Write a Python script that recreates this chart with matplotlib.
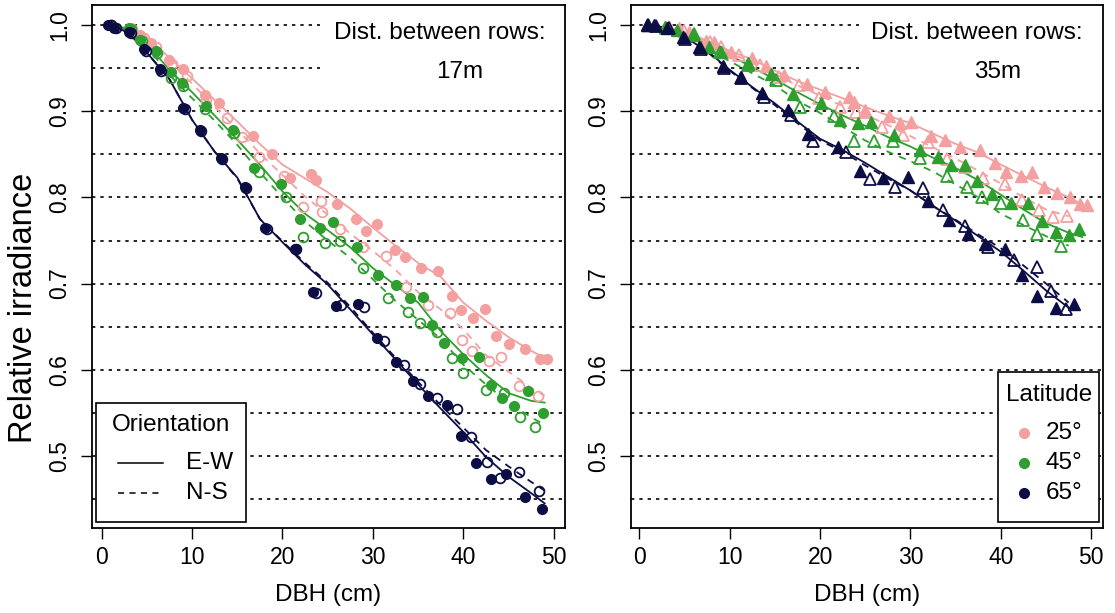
#!/usr/bin/env python3
import numpy as np
import matplotlib
matplotlib.use('Agg')
import matplotlib.pyplot as plt
from matplotlib.patches import Rectangle

plt.rcParams['font.family'] = ['Liberation Sans', 'DejaVu Sans']

# colours per latitude
lat_labels = ['25°', '45°', '65°']
lat_colors = ['#F4A0A0', '#2E9E2E', '#0D0D45']
orient_labels = ['E-W', 'N-S']

# ---- 17 m rows (circles) ----
# filled = E-W, open = N-S
x17_25_ew = [1.0, 3.2, 4.2, 5.5, 7.4, 9.0, 11.4, 13.0, 16.7, 18.8, 20.8, 23.1, 23.7, 26.0, 28.1, 29.2, 30.5,
             32.4, 33.5, 35.3, 37.2, 38.7, 39.7, 41.1, 42.4, 43.6, 45.1, 46.8, 48.5, 49.3]
y17_25_ew = [1.0, 0.996, 0.988, 0.979, 0.959, 0.949, 0.919, 0.910, 0.871, 0.850, 0.822, 0.827, 0.820, 0.792,
             0.775, 0.761, 0.769, 0.739, 0.731, 0.718, 0.715, 0.686, 0.669, 0.660, 0.670, 0.639, 0.630, 0.624,
             0.613, 0.613]
x17_25_ns = [1.0, 3.3, 4.7, 6.0, 7.8, 9.4, 11.5, 13.9, 15.5, 17.4, 20.2, 22.3, 24.3, 24.4, 26.4, 28.9, 31.4,
             33.7, 36.1, 38.5, 39.9, 41.0, 42.8, 44.2, 46.2, 48.3]
y17_25_ns = [1.0, 0.995, 0.985, 0.975, 0.955, 0.941, 0.913, 0.892, 0.870, 0.847, 0.825, 0.789, 0.796, 0.783,
             0.763, 0.743, 0.732, 0.696, 0.675, 0.666, 0.635, 0.622, 0.610, 0.615, 0.581, 0.570]
x17_45_ew = [1.0, 3.0, 4.2, 6.0, 7.7, 8.9, 11.5, 14.5, 16.9, 19.8, 21.9, 24.1, 25.6, 28.2, 30.6, 32.6, 34.1,
             35.5, 36.5, 37.9, 39.9, 41.7, 43.1, 44.3, 45.6, 47.2, 48.8]
y17_45_ew = [1.0, 0.996, 0.983, 0.970, 0.945, 0.933, 0.906, 0.878, 0.834, 0.815, 0.775, 0.765, 0.771, 0.743,
             0.710, 0.698, 0.683, 0.684, 0.652, 0.631, 0.614, 0.615, 0.582, 0.567, 0.558, 0.575, 0.550]
x17_45_ns = [1.0, 3.2, 4.5, 6.1, 7.7, 9.0, 11.4, 14.6, 17.4, 20.4, 22.3, 24.7, 26.4, 28.9, 31.7, 33.9, 35.2,
             37.1, 38.8, 40.0, 42.5, 44.5, 46.3, 47.9]
y17_45_ns = [1.0, 0.995, 0.981, 0.968, 0.938, 0.929, 0.903, 0.875, 0.829, 0.801, 0.754, 0.747, 0.749, 0.718,
             0.683, 0.667, 0.654, 0.644, 0.614, 0.596, 0.577, 0.573, 0.545, 0.534]
x17_65_ew = [0.7, 1.4, 3.0, 4.7, 6.5, 9.0, 10.9, 13.2, 15.9, 18.1, 21.4, 23.4, 25.9, 28.4, 30.5, 32.6, 34.4,
             36.1, 38.2, 39.7, 41.4, 43.1, 44.7, 46.8, 48.7]
y17_65_ew = [1.0, 0.997, 0.992, 0.972, 0.949, 0.904, 0.878, 0.846, 0.812, 0.765, 0.740, 0.690, 0.674, 0.676,
             0.637, 0.609, 0.587, 0.570, 0.559, 0.523, 0.492, 0.473, 0.479, 0.452, 0.439]
x17_65_ns = [1.0, 1.6, 3.2, 4.9, 6.6, 9.2, 11.0, 13.3, 16.0, 18.3, 21.5, 23.7, 26.5, 29.0, 31.2, 33.4, 35.2,
             37.1, 39.3, 40.9, 42.6, 44.1, 46.2, 48.4]
y17_65_ns = [1.0, 0.996, 0.991, 0.970, 0.947, 0.902, 0.877, 0.845, 0.811, 0.763, 0.740, 0.689, 0.675, 0.673,
             0.633, 0.606, 0.584, 0.567, 0.555, 0.522, 0.493, 0.474, 0.482, 0.459]

# fitted curves, 17 m (read at fit_x17)
fit_x17 = [1, 3, 5, 7.5, 10, 12.5, 15, 17.5, 20, 22.5, 25, 27.5, 30, 32.5, 35, 37.5, 40, 42.5, 45, 47.5, 49]
fit17_25_ew = [1.0, 0.996, 0.986, 0.962, 0.938, 0.913, 0.888, 0.862, 0.838, 0.822, 0.806, 0.787, 0.765, 0.744,
               0.724, 0.708, 0.678, 0.657, 0.638, 0.622, 0.614]
fit17_25_ns = [1.0, 0.995, 0.982, 0.958, 0.932, 0.905, 0.879, 0.851, 0.826, 0.801, 0.780, 0.758, 0.738, 0.716,
               0.690, 0.670, 0.647, 0.617, 0.598, 0.579, 0.570]
fit17_45_ew = [1.0, 0.995, 0.978, 0.948, 0.922, 0.895, 0.867, 0.838, 0.807, 0.781, 0.762, 0.742, 0.718, 0.698,
               0.678, 0.645, 0.618, 0.594, 0.573, 0.564, 0.562]
fit17_45_ns = [1.0, 0.994, 0.975, 0.942, 0.915, 0.889, 0.861, 0.829, 0.800, 0.772, 0.750, 0.730, 0.705, 0.680,
               0.658, 0.636, 0.606, 0.583, 0.562, 0.545, 0.536]
fit17_65_ew = [1.0, 0.991, 0.968, 0.937, 0.890, 0.853, 0.823, 0.775, 0.748, 0.722, 0.699, 0.670, 0.641, 0.612,
               0.583, 0.555, 0.528, 0.499, 0.476, 0.457, 0.445]
fit17_65_ns = [1.0, 0.991, 0.968, 0.937, 0.890, 0.853, 0.822, 0.775, 0.749, 0.724, 0.701, 0.673, 0.643, 0.614,
               0.586, 0.559, 0.533, 0.507, 0.488, 0.470, 0.460]

# ---- 35 m rows (triangles) ----
x35_25_ew = [1.0, 2.8, 4.4, 5.5, 7.4, 8.3, 10.1, 12.5, 14.0, 16.0, 18.6, 20.5, 23.2, 23.8, 25.0, 27.6, 28.8,
             30.1, 32.3, 33.8, 35.5, 37.7, 39.3, 40.6, 42.2, 43.4, 44.8, 46.2, 47.6, 48.8, 49.5]
y35_25_ew = [1.0, 0.998, 0.996, 0.992, 0.981, 0.980, 0.969, 0.962, 0.952, 0.942, 0.932, 0.922, 0.917, 0.911,
             0.901, 0.894, 0.886, 0.888, 0.871, 0.867, 0.859, 0.855, 0.840, 0.830, 0.825, 0.829, 0.812, 0.805,
             0.800, 0.792, 0.791]
x35_25_ns = [1.0, 3.3, 4.9, 6.0, 7.8, 9.0, 11.0, 13.4, 15.5, 17.7, 19.9, 22.2, 24.0, 25.0, 26.8, 29.2, 31.9,
             34.0, 36.0, 38.0, 40.5, 42.3, 44.2, 45.8, 47.3]
y35_25_ns = [1.0, 0.998, 0.993, 0.990, 0.980, 0.975, 0.965, 0.954, 0.940, 0.930, 0.915, 0.905, 0.899, 0.899,
             0.882, 0.872, 0.864, 0.845, 0.835, 0.822, 0.815, 0.797, 0.785, 0.777, 0.779]
x35_45_ew = [1.0, 2.8, 4.2, 5.9, 7.7, 9.0, 12.0, 14.6, 17.0, 20.1, 22.2, 24.2, 25.6, 28.2, 31.0, 33.0, 34.5,
             36.0, 37.4, 39.0, 41.1, 43.0, 44.6, 46.1, 47.5, 48.7]
y35_45_ew = [1.0, 0.998, 0.994, 0.988, 0.975, 0.969, 0.956, 0.943, 0.920, 0.910, 0.890, 0.886, 0.887, 0.872,
             0.855, 0.847, 0.838, 0.838, 0.819, 0.804, 0.793, 0.794, 0.773, 0.760, 0.756, 0.763]
x35_45_ns = [1.0, 3.0, 6.0, 8.9, 12.0, 15.1, 17.8, 21.5, 23.7, 26.0, 28.1, 31.0, 34.0, 36.3, 37.9, 40.0, 42.4,
             44.0, 46.7]
y35_45_ns = [1.0, 0.997, 0.990, 0.969, 0.954, 0.936, 0.905, 0.894, 0.866, 0.865, 0.865, 0.846, 0.825, 0.812,
             0.800, 0.793, 0.774, 0.757, 0.744]
x35_65_ew = [0.8, 1.6, 3.1, 4.8, 6.6, 9.3, 11.2, 13.6, 16.4, 18.7, 22.0, 24.4, 27.0, 29.7, 31.9, 34.3, 36.4,
             38.2, 40.5, 42.3, 44.0, 46.1, 48.1]
y35_65_ew = [1.0, 1.0, 0.997, 0.986, 0.975, 0.952, 0.940, 0.921, 0.901, 0.874, 0.859, 0.831, 0.822, 0.824,
             0.796, 0.774, 0.757, 0.746, 0.740, 0.710, 0.686, 0.672, 0.676]
x35_65_ns = [1.0, 1.8, 3.3, 5.0, 6.8, 9.4, 11.2, 13.8, 16.8, 19.2, 22.9, 25.5, 28.3, 31.4, 33.6, 36.0, 38.6,
             41.4, 44.0, 45.6, 47.2]
y35_65_ns = [1.0, 0.999, 0.996, 0.984, 0.972, 0.950, 0.938, 0.917, 0.896, 0.865, 0.853, 0.821, 0.812, 0.811,
             0.785, 0.767, 0.742, 0.727, 0.719, 0.691, 0.671]

fit_x35 = [1, 3, 5, 7.5, 10, 12.5, 15, 17.5, 20, 22.5, 25, 27.5, 30, 32.5, 35, 37.5, 40, 42.5, 45, 47.5, 49]
fit35_25_ew = [1.0, 0.997, 0.992, 0.982, 0.970, 0.960, 0.947, 0.935, 0.925, 0.915, 0.905, 0.895, 0.886, 0.874,
               0.862, 0.852, 0.838, 0.825, 0.812, 0.800, 0.792]
fit35_25_ns = [1.0, 0.997, 0.990, 0.980, 0.968, 0.956, 0.943, 0.930, 0.918, 0.906, 0.896, 0.884, 0.871, 0.858,
               0.845, 0.831, 0.816, 0.800, 0.786, 0.778]
fit35_45_ew = [1.0, 0.996, 0.990, 0.977, 0.965, 0.951, 0.937, 0.922, 0.908, 0.895, 0.883, 0.870, 0.859, 0.846,
               0.834, 0.820, 0.803, 0.786, 0.770, 0.759, 0.754]
fit35_45_ns = [1.0, 0.996, 0.988, 0.972, 0.958, 0.944, 0.930, 0.912, 0.898, 0.882, 0.866, 0.853, 0.842, 0.830,
               0.815, 0.800, 0.781, 0.768, 0.755, 0.744]
fit35_65_ew = [1.0, 0.997, 0.986, 0.970, 0.948, 0.928, 0.909, 0.888, 0.868, 0.855, 0.840, 0.824, 0.808, 0.790,
               0.773, 0.755, 0.737, 0.715, 0.692, 0.672]
fit35_65_ns = [1.0, 0.997, 0.986, 0.969, 0.947, 0.927, 0.907, 0.886, 0.866, 0.853, 0.837, 0.822, 0.808, 0.790,
               0.774, 0.757, 0.741, 0.721, 0.700, 0.678]

x_ticks = [0, 10, 20, 30, 40, 50]
y_ticks = [0.5, 0.6, 0.7, 0.8, 0.9, 1.0]
grid_levels = [0.45, 0.5, 0.55, 0.6, 0.65, 0.7, 0.75, 0.8, 0.85, 0.9, 0.95, 1.0]

FS = 17.5
TICK_FS = 16.5
DASH = (0, (4, 3.5))
W, H = 1115.0, 613.0


def setup_axes(ax, xlim):
    ax.set_xlim(*xlim)
    ax.set_ylim(0.4165, 1.0232)
    ax.set_xticks(x_ticks)
    ax.set_yticks(y_ticks)
    ax.set_yticklabels([f'{v:.1f}' for v in y_ticks])
    ax.tick_params(axis='both', direction='out', length=7.7, width=1.0, labelsize=TICK_FS)
    ax.tick_params(axis='x', pad=5)
    ax.tick_params(axis='y', labelrotation=90, pad=7)
    for lab in ax.get_yticklabels():
        lab.set_va('center')
    for sp in ax.spines.values():
        sp.set_linewidth(1.3)
    for g in grid_levels:
        ax.axhline(g, color='black', lw=1.2, ls=(0, (2.0, 3.0)), zorder=1)
    ax.set_xlabel('DBH (cm)', fontsize=FS, labelpad=11)
    # white patch behind the annotation (hides grid lines)
    ax.add_patch(Rectangle((0.482, 0.828), 0.518, 0.172, transform=ax.transAxes,
                           facecolor='white', edgecolor='none', zorder=1.5))


def draw_panel(ax, marker, msize, fit_x, series):
    for (xe, ye, xn, yn, fe, fn), c in zip(series, lat_colors):
        ax.plot(fit_x[:len(fe)], fe, color=c, lw=1.3, zorder=2)
        ax.plot(fit_x[:len(fn)], fn, color=c, lw=1.3, ls=DASH, zorder=2)
        ax.plot(xn, yn, ls='', marker=marker, ms=msize, mfc='none', mec=c, mew=1.3, zorder=3)
        ax.plot(xe, ye, ls='', marker=marker, ms=msize, color=c, mec=c, zorder=3)


def box_legend(ax, ax_px, frame_px, title, title_px, rows):
    # legend drawn by hand so the spacing can follow the original (pixel positions)
    x0, x1 = ax_px
    fx = lambda px: (px - x0) / (x1 - x0)
    fy = lambda py: (528 - py) / 523.0
    (bx0, by0, bx1, by1) = frame_px
    ax.add_patch(Rectangle((fx(bx0), fy(by1)), fx(bx1) - fx(bx0), fy(by0) - fy(by1),
                           transform=ax.transAxes, facecolor='white', edgecolor='black',
                           lw=1.2, zorder=5))
    ax.text(fx(title_px[0]), fy(title_px[1]), title, transform=ax.transAxes, ha='center',
            va='center', fontsize=FS, zorder=6)
    for draw, label, text_x, yy in rows:
        draw(fx, fy(yy))
        ax.text(fx(text_x), fy(yy), label, transform=ax.transAxes, ha='left', va='center',
                fontsize=FS, zorder=6)


fig = plt.figure(figsize=(11.15, 6.13), dpi=100)
ax1 = fig.add_axes([92 / W, 1 - 528 / H, (565 - 92) / W, 523 / H])
ax2 = fig.add_axes([631 / W, 1 - 528 / H, (1103 - 631) / W, 523 / H])

setup_axes(ax1, (-1.07, 51.25))
setup_axes(ax2, (-0.92, 51.3))

draw_panel(ax1, 'o', 7, fit_x17, [
    (x17_25_ew, y17_25_ew, x17_25_ns, y17_25_ns, fit17_25_ew, fit17_25_ns),
    (x17_45_ew, y17_45_ew, x17_45_ns, y17_45_ns, fit17_45_ew, fit17_45_ns),
    (x17_65_ew, y17_65_ew, x17_65_ns, y17_65_ns, fit17_65_ew, fit17_65_ns),
])
draw_panel(ax2, '^', 8.4, fit_x35, [
    (x35_25_ew, y35_25_ew, x35_25_ns, y35_25_ns, fit35_25_ew, fit35_25_ns),
    (x35_45_ew, y35_45_ew, x35_45_ns, y35_45_ns, fit35_45_ew, fit35_45_ns),
    (x35_65_ew, y35_65_ew, x35_65_ns, y35_65_ns, fit35_65_ew, fit35_65_ns),
])

# annotations
ax1.text(0.736, 0.946, 'Dist. between rows:', transform=ax1.transAxes, ha='center', va='center',
         fontsize=FS, zorder=4)
ax1.text(0.778, 0.872, '17m', transform=ax1.transAxes, ha='center', va='center', fontsize=FS, zorder=4)
ax2.text(0.733, 0.946, 'Dist. between rows:', transform=ax2.transAxes, ha='center', va='center',
         fontsize=FS, zorder=4)
ax2.text(0.776, 0.872, '35m', transform=ax2.transAxes, ha='center', va='center', fontsize=FS, zorder=4)

fig.text(24 / W, 1 - 308 / H, 'Relative irradiance', rotation=90, ha='center', va='center', fontsize=23.5)


# orientation legend (left panel)
def orient_sample(ls):
    def draw(fx, y):
        ax1.plot([fx(118), fx(163)], [y, y], color='black', lw=1.1, ls=ls,
                 transform=ax1.transAxes, zorder=6, clip_on=False)
    return draw


box_legend(ax1, (92, 565), (96, 403, 246, 522), 'Orientation', (171, 425),
           [(orient_sample('-'), orient_labels[0], 186, 463),
            (orient_sample(DASH), orient_labels[1], 186, 493)])


# latitude legend (right panel)
def lat_sample(c):
    def draw(fx, y):
        ax2.plot([fx(1024)], [y], ls='', marker='o', ms=7, color=c,
                 transform=ax2.transAxes, zorder=6, clip_on=False)
    return draw


box_legend(ax2, (631, 1103), (998, 372, 1099, 522), 'Latitude', (1049, 395),
           [(lat_sample(c), lab, 1046, yy)
            for c, lab, yy in zip(lat_colors, lat_labels, [433, 463, 493])])

fig.savefig('out.png', dpi=100)
